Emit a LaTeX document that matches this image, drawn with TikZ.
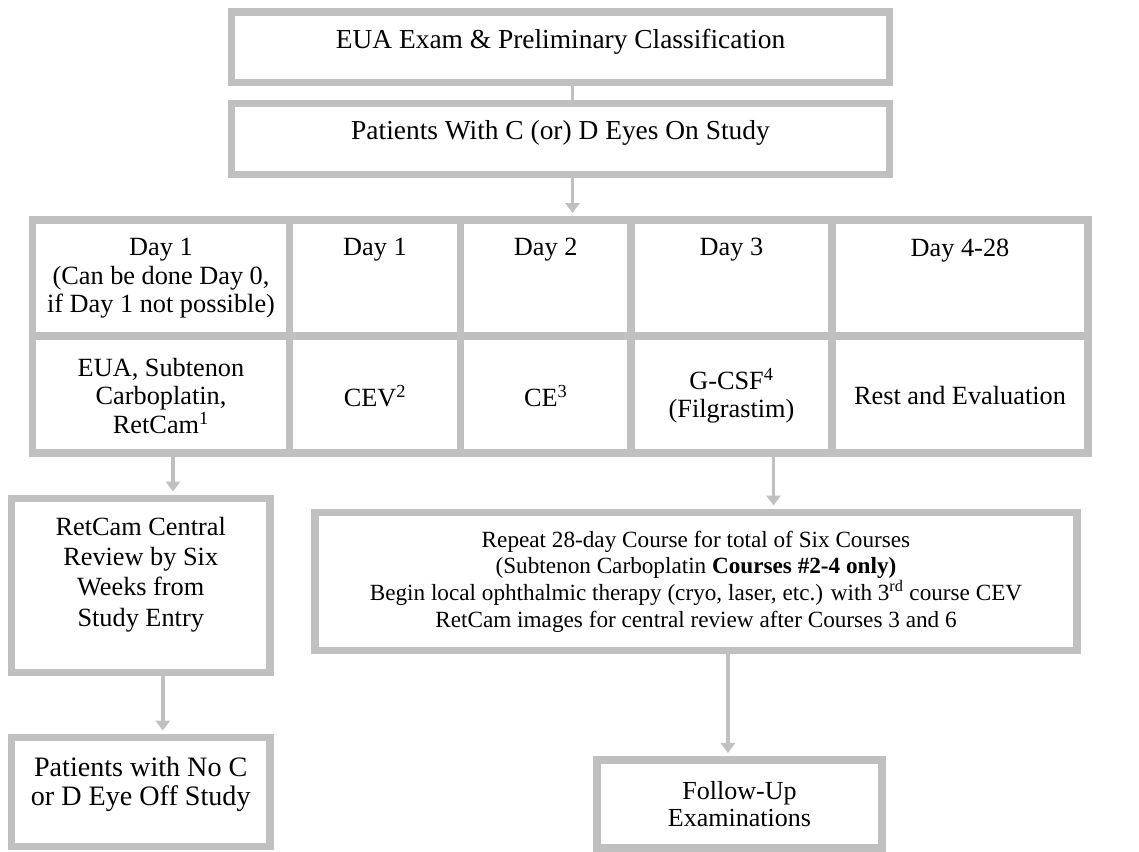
\documentclass[tikz,border=0pt]{standalone}
\usepackage{fontspec}
\setmainfont{Liberation Serif}
\usetikzlibrary{positioning,fit,arrows.meta}
\definecolor{framegrey}{RGB}{192,192,192}
\newcommand{\cellfont}{\fontsize{18.7}{20}\selectfont}
\newcommand{\sidefont}{\fontsize{18.7}{21.5}\selectfont}
\newcommand{\topfont}{\fontsize{19.5}{21}\selectfont}
\newcommand{\boxfont}{\fontsize{16.5}{19}\selectfont}
\tikzset{
  frame/.style={draw=framegrey, line width=5pt, fill=white, inner sep=0pt},
  txt/.style={inner sep=0pt, align=center},
  flow/.style={draw=framegrey, line width=2.8pt, shorten >=2.5pt, -{Triangle[length=7pt,width=10pt]}},
  joint/.style={draw=framegrey, line width=2.8pt},
}
\begin{document}
\begin{tikzpicture}[x=0.025cm, y=-0.025cm]
\useasboundingbox (0,0) rectangle (1139,852);

% entry boxes
\node[frame, fit={(231.5,12) (889.5,82.5)}] (exam) {};
\node[txt, font=\topfont] (examtxt) at ([yshift=3.6pt]exam.center) {EUA Exam \& Preliminary Classification};
\node[frame, fit={(231.5,103.5) (889.5,174.5)}] (onstudy) {};
\node[txt, font=\topfont] (onstudytxt) at ([yshift=4pt]onstudy.center) {Patients With C (or) D Eyes On Study};

% course schedule
\foreach \n/\xa/\xb/\hd/\bd in {
    1/32.5/289.5/{Day 1\\(Can be done Day 0,\\if Day 1 not possible)}/{EUA, Subtenon\\Carboplatin,\\RetCam\textsuperscript{1}},
    2/289.5/460.5/{Day 1}/{CEV\textsuperscript{2}},
    3/460.5/631/{Day 2}/{CE\textsuperscript{3}},
    4/631/832/{Day 3}/{G-CSF\textsuperscript{4}\\(Filgrastim)},
    5/832/1088/{Day 4-28}/{Rest and Evaluation}}
{
    \node[frame, fit={(\xa,220) (\xb,336)}] (h\n) {};
    \node[txt, font=\cellfont, below=15.5pt of h\n.north] (ht\n) {\hd};
    \node[frame, fit={(\xa,336) (\xb,453)}] (b\n) {};
    \node[txt, font=\cellfont] (bt\n) at ([yshift=-1pt]b\n.center) {\bd};
}

% after the course
\node[frame, fit={(11.5,498.5) (270,672.5)}] (retcam) {};
\node[txt, font=\sidefont, below=15.5pt of retcam.north] (retcamtxt) {RetCam Central\\Review by Six\\Weeks from\\Study Entry};
\node[frame, fit={(11.5,737.5) (270,846.5)}] (offstudy) {};
\node[txt, font=\fontsize{20}{20.8}\selectfont, below=16pt of offstudy.north] (offstudytxt) {Patients with No C\\or D Eye Off Study};
\node[frame, fit={(315,512.5) (1077,650.5)}] (repeat) {};
\node[txt, font=\boxfont] (repeattxt) at (repeat.center) {Repeat 28-day Course for total of Six Courses\\(Subtenon Carboplatin \textbf{Courses \#2-4 only)}\\Begin local ophthalmic therapy (cryo, laser, etc.) with 3\textsuperscript{rd} course CEV\\RetCam images for central review after Courses 3 and 6};
\node[frame, fit={(597,760) (882,848)}] (followup) {};
\node[txt, font=\fontsize{18.5}{19.5}\selectfont] (followuptxt) at (followup.center) {Follow-Up\\Examinations};

\draw[joint] ([xshift=0.3cm]exam.south) -- ([xshift=0.3cm]onstudy.north);
\draw[flow] ([xshift=0.3cm]onstudy.south) -- ([xshift=0.3cm]onstudy.south |- h3.north);
\draw[flow] ([xshift=0.3cm]b1.south) -- ([xshift=0.3cm]b1.south |- retcam.north);
\draw[flow] ([xshift=0.55cm]retcam.south) -- ([xshift=0.55cm]retcam.south |- offstudy.north);
\draw[flow] ([xshift=1.05cm]b4.south) -- ([xshift=1.05cm]b4.south |- repeat.north);
\draw[flow] ([xshift=-0.29cm]followup.north |- repeat.south) -- ([xshift=-0.29cm]followup.north);
\end{tikzpicture}
\end{document}
